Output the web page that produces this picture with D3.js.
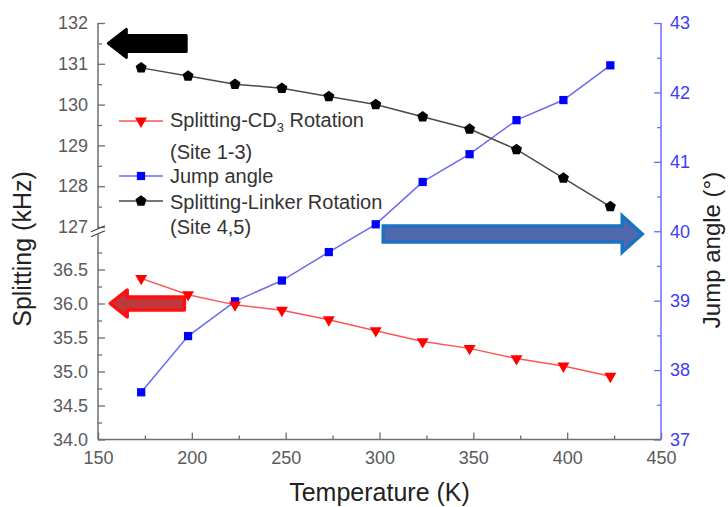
<!DOCTYPE html>
<html>
<head>
<meta charset="utf-8">
<script src="https://cdn.jsdelivr.net/npm/d3@7"></script>
<style>
  html, body { margin: 0; padding: 0; background: #fff; }
  svg { display: block; font-family: Arial, "Liberation Sans", sans-serif; }
</style>
</head>
<body>
<script>
// Temperature series (K)
const temps = [173, 198, 223, 248, 273, 298, 323, 348, 373, 398, 423];
// Quadrupolar splitting, CD3 rotation, sites 1-3 (kHz)
const cd3Splitting = [36.37, 36.13, 35.98, 35.90, 35.76, 35.60, 35.44, 35.34, 35.19, 35.08, 34.93];
// Jump angle (degrees), right axis
const jumpAngle = [37.68, 38.49, 38.99, 39.29, 39.70, 40.10, 40.71, 41.11, 41.60, 41.89, 42.39];
// Quadrupolar splitting, linker rotation, sites 4,5 (kHz)
const linkerSplitting = [130.9, 130.7, 130.5, 130.4, 130.2, 130.0, 129.7, 129.4, 128.9, 128.2, 127.5];

// Tick values
const xTicks = [150, 200, 250, 300, 350, 400, 450];
const xMinor = [175, 225, 275, 325, 375, 425];
const lowTicks = [34.0, 34.5, 35.0, 35.5, 36.0, 36.5];
const lowMinor = [34.25, 34.75, 35.25, 35.75, 36.25, 36.75];
const highTicks = [127, 128, 129, 130, 131, 132];
const highMinor = [127.5, 128.5, 129.5, 130.5, 131.5];
const rightTicks = [37, 38, 39, 40, 41, 42, 43];
const rightMinor = [37.5, 38.5, 39.5, 40.5, 41.5, 42.5];

const legendItems = [
  { lines: ["Splitting-CD", "(Site 1-3)"], sub: "3", tail: " Rotation", key: "cd3" },
  { lines: ["Jump angle"], key: "jump" },
  { lines: ["Splitting-Linker Rotation", "(Site 4,5)"], key: "linker" }
];

const W = 728, H = 507;
const plotL = 98, plotR = 661, plotB = 439.5, plotT = 23;

const svg = d3.select("body").append("svg").attr("width", W).attr("height", H);

const x = d3.scaleLinear().domain([150, 450]).range([plotL, plotR]);
// Broken left axis: lower segment and upper segment
const yLow = d3.scaleLinear().domain([34, 37]).range([plotB, 235.5]);
const yHigh = d3.scaleLinear().domain([127, 132]).range([227, plotT]);
const yR = d3.scaleLinear().domain([37, 43]).range([plotB, plotT]);

const gray = "#5a5a5a";
const axisGray = "#6e6e6e";
const blueAxis = "#6b6bff";
const blueText = "#3d3df2";

function styleAxis(g, lineColor, textColor) {
  g.select(".domain").remove();
  g.selectAll(".tick line").attr("stroke", lineColor).attr("stroke-width", 1.3);
  g.selectAll(".tick text").attr("fill", textColor).attr("font-size", 18)
    .attr("font-family", "Arial, 'Liberation Sans', sans-serif");
}

// Bottom axis
const gx = svg.append("g").attr("transform", `translate(0,${plotB})`)
  .call(d3.axisBottom(x).tickValues(xTicks).tickSize(-7).tickPadding(12).tickFormat(d3.format("d")));
styleAxis(gx, axisGray, gray);
const gxm = svg.append("g").attr("transform", `translate(0,${plotB})`)
  .call(d3.axisBottom(x).tickValues(xMinor).tickSize(-4).tickFormat(""));
styleAxis(gxm, axisGray, gray);

// Left axis, lower segment
const gl = svg.append("g").attr("transform", `translate(${plotL},0)`)
  .call(d3.axisLeft(yLow).tickValues(lowTicks).tickSize(-7).tickPadding(10).tickFormat(d3.format(".1f")));
styleAxis(gl, axisGray, gray);
const glm = svg.append("g").attr("transform", `translate(${plotL},0)`)
  .call(d3.axisLeft(yLow).tickValues(lowMinor).tickSize(-4).tickFormat(""));
styleAxis(glm, axisGray, gray);

// Left axis, upper segment
const gh = svg.append("g").attr("transform", `translate(${plotL},0)`)
  .call(d3.axisLeft(yHigh).tickValues(highTicks).tickSize(-7).tickPadding(10).tickFormat(d3.format("d")));
styleAxis(gh, axisGray, gray);
const ghm = svg.append("g").attr("transform", `translate(${plotL},0)`)
  .call(d3.axisLeft(yHigh).tickValues(highMinor).tickSize(-4).tickFormat(""));
styleAxis(ghm, axisGray, gray);

// Right axis
const gr = svg.append("g").attr("transform", `translate(${plotR},0)`)
  .call(d3.axisRight(yR).tickValues(rightTicks).tickSize(-7).tickPadding(9).tickFormat(d3.format("d")));
styleAxis(gr, blueAxis, blueText);
const grm = svg.append("g").attr("transform", `translate(${plotR},0)`)
  .call(d3.axisRight(yR).tickValues(rightMinor).tickSize(-4).tickFormat(""));
styleAxis(grm, blueAxis, blueText);

// Axis lines
const breakY = (yHigh(127) + yLow(37)) / 2;
svg.append("line").attr("x1", plotL).attr("x2", plotR).attr("y1", plotB).attr("y2", plotB)
  .attr("stroke", axisGray).attr("stroke-width", 1.5);
svg.append("line").attr("x1", plotL).attr("x2", plotL).attr("y1", plotB).attr("y2", breakY + 3)
  .attr("stroke", axisGray).attr("stroke-width", 1.5);
svg.append("line").attr("x1", plotL).attr("x2", plotL).attr("y1", breakY - 3).attr("y2", plotT)
  .attr("stroke", axisGray).attr("stroke-width", 1.5);
svg.append("line").attr("x1", plotR).attr("x2", plotR).attr("y1", plotB).attr("y2", plotT)
  .attr("stroke", blueAxis).attr("stroke-width", 1.5);
// Break marks
[-2.5, 2.5].forEach(off => {
  svg.append("line")
    .attr("x1", plotL - 7).attr("y1", breakY + off + 3)
    .attr("x2", plotL + 7).attr("y2", breakY + off - 3)
    .attr("stroke", "#444").attr("stroke-width", 1.3);
});

// Pentagon symbol
const symbolPentagon = {
  draw(context, size) {
    const r = Math.sqrt(size / 2.378);
    for (let i = 0; i < 5; i++) {
      const a = -Math.PI / 2 + i * 2 * Math.PI / 5;
      const px = r * Math.cos(a), py = r * Math.sin(a);
      if (i === 0) context.moveTo(px, py); else context.lineTo(px, py);
    }
    context.closePath();
  }
};

const series = [
  { key: "jump", values: jumpAngle, y: yR, line: "#6a6af5", fill: "#0000ff",
    symbol: d3.symbolSquare, size: 68, rotate: 0 },
  { key: "cd3", values: cd3Splitting, y: yLow, line: "#ff5555", fill: "#ff0000",
    symbol: d3.symbolTriangle, size: 62, rotate: 180 },
  { key: "linker", values: linkerSplitting, y: yHigh, line: "#4a4a4a", fill: "#000000",
    symbol: symbolPentagon, size: 80, rotate: 0 }
];

// Annotation arrows pointing to the relevant axes
function arrowPath(x0, x1, yc, bodyH, headH, headL) {
  // x0 = tip, x1 = tail; works for both directions
  const dir = Math.sign(x1 - x0);
  const hb = x0 + dir * headL;
  return `M${x0},${yc} L${hb},${yc - headH / 2} L${hb},${yc - bodyH / 2} L${x1},${yc - bodyH / 2}` +
    ` L${x1},${yc + bodyH / 2} L${hb},${yc + bodyH / 2} L${hb},${yc + headH / 2} Z`;
}
svg.append("path")
  .attr("d", arrowPath(x(155.5), x(197), yHigh(131.5), 16, 28, 18))
  .attr("fill", "#000").attr("stroke", "#000").attr("stroke-width", 3).attr("stroke-linejoin", "round");
svg.append("path")
  .attr("d", arrowPath(x(156.5), x(196), yLow(36.0), 13, 27, 17))
  .attr("fill", "#c0383d").attr("stroke", "#ff1010").attr("stroke-width", 3.5).attr("stroke-linejoin", "round");
svg.append("path")
  .attr("d", arrowPath(x(440), x(302), yR(39.96), 16, 36, 20))
  .attr("fill", "#5068ad").attr("stroke", "#1a72c2").attr("stroke-width", 3.5).attr("stroke-linejoin", "miter");

// Data lines and markers
series.forEach(s => {
  const pts = temps.map((t, i) => [x(t), s.y(s.values[i])]);
  svg.append("path").attr("d", d3.line()(pts))
    .attr("fill", "none").attr("stroke", s.line).attr("stroke-width", 1.5);
});
series.forEach(s => {
  const sym = d3.symbol().type(s.symbol).size(s.size);
  svg.append("g").selectAll("path").data(temps).join("path")
    .attr("d", sym)
    .attr("transform", (t, i) => `translate(${x(t)},${s.y(s.values[i])}) rotate(${s.rotate})`)
    .attr("fill", s.fill);
});

// Legend
const legend = svg.append("g");
const legRows = [
  { key: "cd3", y: 121 },
  { key: "jump", y: 176 },
  { key: "linker", y: 201 }
];
legRows.forEach(r => {
  const s = series.find(d => d.key === r.key);
  legend.append("line").attr("x1", 119).attr("x2", 163).attr("y1", r.y).attr("y2", r.y)
    .attr("stroke", s.line).attr("stroke-width", 1.5);
  legend.append("path").attr("d", d3.symbol().type(s.symbol).size(s.size)())
    .attr("transform", `translate(141,${r.y}) rotate(${s.rotate})`).attr("fill", s.fill);
});
const legFont = 20, legColor = "#333";
const t1 = legend.append("text").attr("x", 170).attr("y", 127).attr("font-size", legFont).attr("fill", legColor);
t1.append("tspan").text(legendItems[0].lines[0]);
t1.append("tspan").attr("font-size", 13).attr("dy", 5).text(legendItems[0].sub);
t1.append("tspan").attr("dy", -5).text(legendItems[0].tail);
legend.append("text").attr("x", 170).attr("y", 159).attr("font-size", legFont).attr("fill", legColor)
  .text(legendItems[0].lines[1]);
legend.append("text").attr("x", 170).attr("y", 183).attr("font-size", legFont).attr("fill", legColor)
  .text(legendItems[1].lines[0]);
legend.append("text").attr("x", 170).attr("y", 209).attr("font-size", legFont).attr("fill", legColor)
  .text(legendItems[2].lines[0]);
legend.append("text").attr("x", 170).attr("y", 234).attr("font-size", legFont).attr("fill", legColor)
  .text(legendItems[2].lines[1]);

// Axis titles
svg.append("text").attr("x", (plotL + plotR) / 2).attr("y", 501).attr("text-anchor", "middle")
  .attr("font-size", 25).attr("fill", "#222").text("Temperature (K)");
svg.append("text").attr("transform", `translate(31,249) rotate(-90)`).attr("text-anchor", "middle")
  .attr("font-size", 25).attr("fill", "#222").text("Splitting (kHz)");
svg.append("text").attr("transform", `translate(720,250) rotate(-90)`).attr("text-anchor", "middle")
  .attr("font-size", 24).attr("fill", "#222").text("Jump angle (°)");
</script>
</body>
</html>
